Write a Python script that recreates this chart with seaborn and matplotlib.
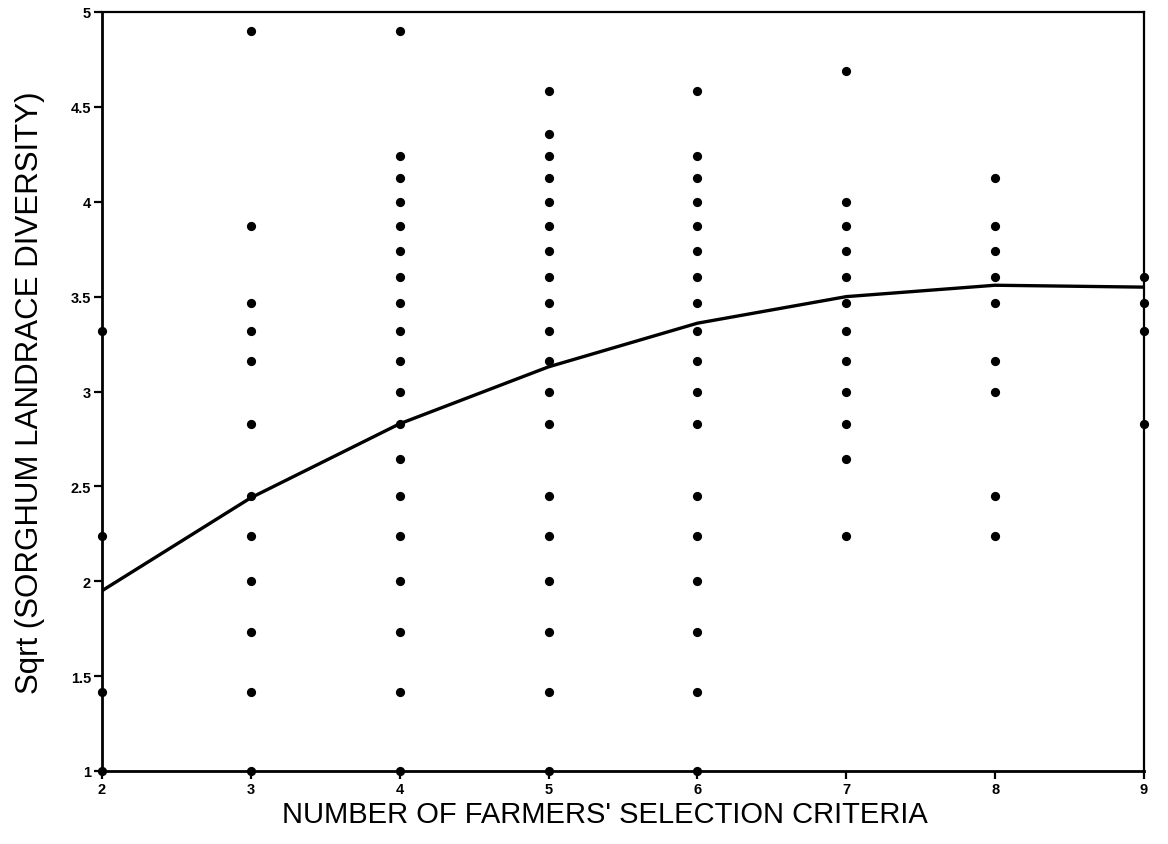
import numpy as np
import pandas as pd
import matplotlib
matplotlib.use("Agg")
import matplotlib.pyplot as plt
import seaborn as sns

# Number of landraces grown, grouped by the number of selection criteria a farmer uses
landraces_2 = [1, 2, 5, 11]
landraces_3 = [1, 2, 3, 4, 5, 6, 8, 10, 11, 12, 15, 24]
landraces_4 = [1, 2, 3, 4, 5, 6, 7, 8, 9, 10, 11, 12, 13, 14, 15, 16, 17, 18, 24]
landraces_5 = [1, 2, 3, 4, 5, 6, 8, 9, 10, 11, 12, 13, 14, 15, 16, 17, 18, 19, 21]
landraces_6 = [1, 2, 3, 4, 5, 6, 8, 9, 10, 11, 12, 13, 14, 15, 16, 17, 18, 21]
landraces_7 = [5, 7, 8, 9, 10, 11, 12, 13, 14, 15, 16, 22]
landraces_8 = [5, 6, 9, 10, 12, 13, 14, 15, 17]
landraces_9 = [8, 11, 12, 13]

criteria = [2, 3, 4, 5, 6, 7, 8, 9]
# Fitted trend of sqrt(diversity) at each number of criteria
fitted = [1.95, 2.44, 2.83, 3.13, 3.36, 3.50, 3.56, 3.55]

y_ticks = [1, 1.5, 2, 2.5, 3, 3.5, 4, 4.5, 5]
y_tick_labels = ["1", "1.5", "2", "2.5", "3", "3.5", "4", "4.5", "5"]

groups = [landraces_2, landraces_3, landraces_4, landraces_5,
          landraces_6, landraces_7, landraces_8, landraces_9]
points = pd.DataFrame(
    [(c, np.sqrt(n)) for c, grp in zip(criteria, groups) for n in grp],
    columns=["criteria", "sqrt_diversity"],
)
trend = pd.DataFrame({"criteria": criteria, "fitted": fitted})

sns.set_style("ticks")
plt.rcParams["font.family"] = ["Liberation Sans", "DejaVu Sans"]
plt.rcParams["text.color"] = "black"
plt.rcParams["axes.labelcolor"] = "black"
plt.rcParams["xtick.color"] = "black"
plt.rcParams["ytick.color"] = "black"
plt.rcParams["axes.edgecolor"] = "black"

fig = plt.figure(figsize=(11.68, 8.45), dpi=100)
ax = fig.add_axes([102 / 1168, 1 - 772 / 845, 1042 / 1168, 759 / 845])

sns.scatterplot(data=points, x="criteria", y="sqrt_diversity", ax=ax,
                color="black", s=44, edgecolor="black", linewidth=0,
                marker="o", clip_on=False, zorder=4)
sns.lineplot(data=trend, x="criteria", y="fitted", ax=ax,
             color="black", linewidth=2.4, zorder=3)

ax.set_xlim(2, 9)
ax.set_ylim(1, 5)
ax.set_xticks(criteria)
ax.set_xticklabels([str(c) for c in criteria])
ax.set_yticks(y_ticks)
ax.set_yticklabels(y_tick_labels)

for lbl in ax.get_xticklabels() + ax.get_yticklabels():
    lbl.set_fontweight("bold")
    lbl.set_fontsize(10.5)
    lbl.set_color("black")

ax.tick_params(axis="both", direction="out", length=6, width=1.6,
               color="black", labelcolor="black", pad=2)

for side in ["left", "bottom"]:
    ax.spines[side].set_linewidth(2.0)
for side in ["top", "right"]:
    ax.spines[side].set_visible(True)
    ax.spines[side].set_linewidth(1.6)
for sp in ax.spines.values():
    sp.set_color("black")

ax.set_xlabel("NUMBER OF FARMERS' SELECTION CRITERIA", fontsize=21, color="black")
ax.set_ylabel("Sqrt (SORGHUM LANDRACE DIVERSITY)", fontsize=22.5, color="black")
ax.xaxis.set_label_coords(0.483, -0.038)
ax.yaxis.set_label_coords(-0.055, 0.5)

fig.savefig("out.png", dpi=100, facecolor="white")
